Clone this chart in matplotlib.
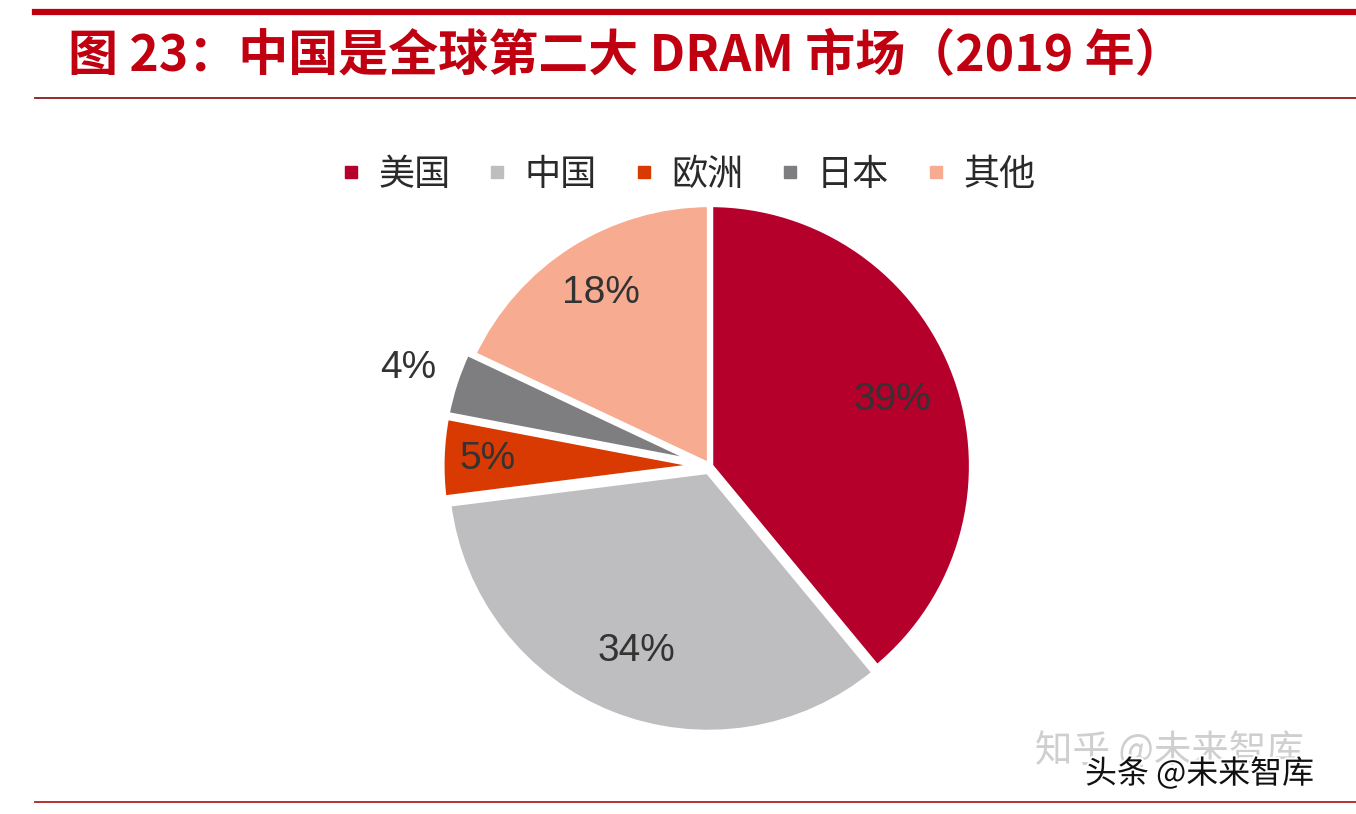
import matplotlib
matplotlib.use("Agg")
import matplotlib.pyplot as plt
from matplotlib.lines import Line2D
import matplotlib.patheffects as pe
import numpy as np

# ---- data ----
categories = ["美国", "中国", "欧洲", "日本", "其他"]
shares = [39, 34, 5, 4, 18]
colors = ["#B4002B", "#BEBEC0", "#D83A02", "#7E7E80", "#F7AB91"]
title = "图 23：中国是全球第二大 DRAM 市场（2019 年）"

# ---- style ----
label_dist = [0.74, 0.76, 0.85, 1.21, 0.78]
explode = [0.0, 0.02, 0.025, 0.025, 0.0]

plt.rcParams['font.family'] = ['Noto Sans CJK SC', 'DejaVu Sans']

W, H = 1356, 814
fig = plt.figure(figsize=(W / 100, H / 100), dpi=100)
fig.patch.set_facecolor("white")

# decorative lines
fig.add_artist(Line2D([35 / W, 1], [1 - 12 / H, 1 - 12 / H], color="#C00010", lw=4.5))
fig.add_artist(Line2D([35 / W, 1], [1 - 98 / H, 1 - 98 / H], color="#8B1A1A", lw=1.3))
fig.add_artist(Line2D([35 / W, 1], [1 - 802 / H, 1 - 802 / H], color="#B22020", lw=1.3))

fig.text(68 / W, 1 - 56 / H, title, color="#C00010", fontsize=36, fontweight="bold",
         ha="left", va="center", family=['Noto Sans CJK SC', 'DejaVu Sans'])

# pie
cx, cy, r = 710, 466, 262
ax = fig.add_axes([(cx - r) / W, (H - cy - r) / H, 2 * r / W, 2 * r / H])
wedges, texts, autotexts = ax.pie(
    shares, colors=colors, startangle=90, counterclock=False, explode=explode,
    autopct=lambda p: f"{p:.0f}%", pctdistance=0.78,
    wedgeprops=dict(edgecolor="white", linewidth=4.5),
    textprops=dict(fontsize=28, color="#333333", family=['Liberation Sans', 'DejaVu Sans']))
for w, t, d in zip(wedges, autotexts, label_dist):
    ang = np.deg2rad((w.theta1 + w.theta2) / 2)
    t.set_position((d * np.cos(ang), d * np.sin(ang)))
ax.set_xlim(-1, 1)
ax.set_ylim(-1, 1)
ax.set_aspect("auto")

# legend
handles = [Line2D([], [], marker="s", linestyle="none", markersize=8,
                  markerfacecolor=c, markeredgecolor=c) for c in colors]
fig.legend(handles, categories, loc="center", bbox_to_anchor=(688 / W, 1 - 175 / H),
           ncol=5, frameon=False, fontsize=26, handlelength=0.6, handletextpad=0.45,
           columnspacing=1.0, labelcolor="#2A2A2A")

# watermarks
fig.text(1035 / W, 1 - 752 / H, "知乎 @未来智库", color="#CFCFCF", fontsize=27,
         ha="left", va="center")
fig.text(1085 / W, 1 - 774 / H, "头条 @未来智库", color="#111111", fontsize=23,
         ha="left", va="center",
         path_effects=[pe.withStroke(linewidth=3, foreground="white")])

fig.savefig("out.png", dpi=100)
